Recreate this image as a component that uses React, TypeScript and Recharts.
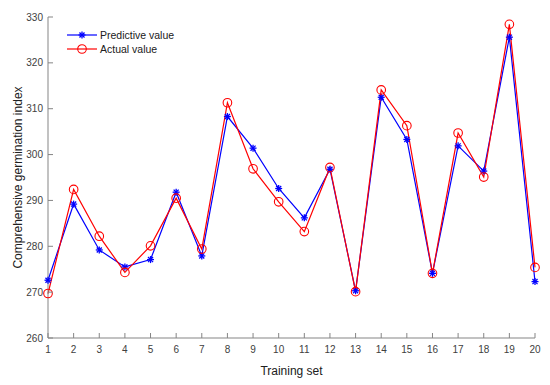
import { LineChart, Line, XAxis, YAxis, Legend, Label } from 'recharts';

const trainingSet = [1, 2, 3, 4, 5, 6, 7, 8, 9, 10, 11, 12, 13, 14, 15, 16, 17, 18, 19, 20];
const predictive = [
  272.6, 289.2, 279.2, 275.5, 277.1, 291.8, 277.9, 308.3, 301.4, 292.6,
  286.2, 296.8, 270.3, 312.5, 303.3, 274.1, 301.9, 296.4, 325.6, 272.3,
];
const actual = [
  269.7, 292.4, 282.2, 274.3, 280.1, 290.5, 279.4, 311.3, 296.9, 289.7,
  283.2, 297.2, 270.1, 314.1, 306.3, 274.1, 304.7, 295.1, 328.4, 275.4,
];
const yTicks = [260, 270, 280, 290, 300, 310, 320, 330];

const data = trainingSet.map((n, i) => ({
  n,
  predictive: predictive[i],
  actual: actual[i],
}));

const FONT = '"Liberation Sans", Arial, sans-serif';
const AXIS = '#858585';
const TEXT = '#404040';
const BLUE = '#0000ff';
const RED = '#ff0000';

function Star({ cx, cy, color = BLUE }: { cx?: number; cy?: number; color?: string }) {
  if (cx == null || cy == null) return null;
  const r = 3.5;
  const d = r * 0.72;
  return (
    <g stroke={color} strokeWidth={1.3}>
      <line x1={cx - r} y1={cy} x2={cx + r} y2={cy} />
      <line x1={cx} y1={cy - r} x2={cx} y2={cy + r} />
      <line x1={cx - d} y1={cy - d} x2={cx + d} y2={cy + d} />
      <line x1={cx - d} y1={cy + d} x2={cx + d} y2={cy - d} />
    </g>
  );
}

function Ring({ cx, cy }: { cx?: number; cy?: number }) {
  if (cx == null || cy == null) return null;
  return <circle cx={cx} cy={cy} r={4.3} fill="none" stroke={RED} strokeWidth={1.1} />;
}

function XTick({ x, y, payload }: { x?: number; y?: number; payload?: { value: number } }) {
  return (
    <g>
      <line x1={x} x2={x} y1={y} y2={(y ?? 0) - 5} stroke={AXIS} />
      <text x={x} y={(y ?? 0) + 15} textAnchor="middle" fontSize={10} fill={TEXT} fontFamily={FONT}>
        {payload?.value}
      </text>
    </g>
  );
}

function YTick({ x, y, payload }: { x?: number; y?: number; payload?: { value: number } }) {
  return (
    <g>
      <line x1={x} x2={(x ?? 0) + 5} y1={y} y2={y} stroke={AXIS} />
      <text x={(x ?? 0) - 5} y={(y ?? 0) + 3.5} textAnchor="end" fontSize={10} fill={TEXT} fontFamily={FONT}>
        {payload?.value}
      </text>
    </g>
  );
}

function LegendBox() {
  const rows = [
    { label: 'Predictive value', color: BLUE, marker: 'star' },
    { label: 'Actual value', color: RED, marker: 'ring' },
  ];
  return (
    <div style={{ fontFamily: FONT, fontSize: 10.5, color: '#202020' }}>
      {rows.map((r) => (
        <div key={r.label} style={{ display: 'flex', alignItems: 'center', height: 14 }}>
          <svg width={32} height={14}>
            <line x1={0} x2={30} y1={7} y2={7} stroke={r.color} strokeWidth={1.2} />
            {r.marker === 'star' ? <Star cx={15} cy={7} /> : <Ring cx={15} cy={7} />}
          </svg>
          <span style={{ marginLeft: 1 }}>{r.label}</span>
        </div>
      ))}
    </div>
  );
}

export default function App() {
  return (
    <div style={{ position: 'absolute', left: 0, top: 0, background: '#fff' }}>
      <LineChart width={550} height={385} data={data} margin={{ top: 17, right: 15, left: 0, bottom: 0 }}>
        <XAxis
          dataKey="n"
          type="number"
          domain={[1, 20]}
          ticks={trainingSet}
          interval={0}
          height={47}
          stroke={AXIS}
          tickSize={0}
          tickMargin={0}
          tick={<XTick />}
        >
          <Label
            content={({ viewBox }: any) => (
              <text
                x={viewBox.x + viewBox.width / 2}
                y={viewBox.y + 37}
                textAnchor="middle"
                fontSize={12}
                fill="#202020"
                fontFamily={FONT}
              >
                Training set
              </text>
            )}
          />
        </XAxis>
        <YAxis
          domain={[260, 330]}
          ticks={yTicks}
          width={48}
          stroke={AXIS}
          tickSize={0}
          tickMargin={0}
          tick={<YTick />}
        >
          <Label
            content={({ viewBox }: any) => {
              const cx = 22;
              const cy = viewBox.y + viewBox.height / 2;
              return (
                <text
                  x={cx}
                  y={cy}
                  textAnchor="middle"
                  transform={`rotate(-90 ${cx} ${cy})`}
                  fontSize={12}
                  fill="#202020"
                  fontFamily={FONT}
                >
                  Comprehensive germination index
                </text>
              );
            }}
          />
        </YAxis>
        <Legend
          layout="vertical"
          verticalAlign="middle"
          align="center"
          content={<LegendBox />}
          wrapperStyle={{ left: 67, top: 28, width: 'auto', height: 'auto' }}
        />
        <Line
          type="linear"
          dataKey="predictive"
          stroke={BLUE}
          strokeWidth={1.2}
          dot={<Star />}
          activeDot={false}
          isAnimationActive={false}
        />
        <Line
          type="linear"
          dataKey="actual"
          stroke={RED}
          strokeWidth={1.2}
          dot={<Ring />}
          activeDot={false}
          isAnimationActive={false}
        />
      </LineChart>
    </div>
  );
}
